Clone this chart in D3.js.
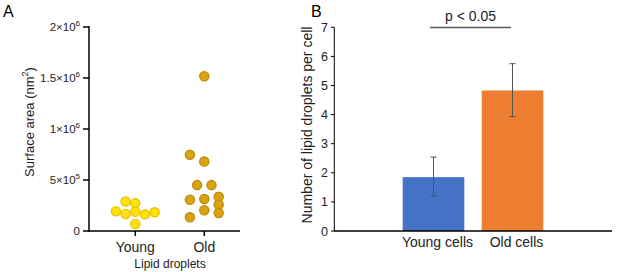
<!DOCTYPE html>
<html><head><meta charset="utf-8">
<script src="https://cdn.jsdelivr.net/npm/d3@7"></script>
<style>body{margin:0;background:#fff}svg{display:block;font-family:"Liberation Sans",Arial,sans-serif}</style>
</head><body><svg id="c" width="617" height="272"></svg>
<script>
// Panel A data
const scatterGroups = ["Young", "Old"];
const youngValues = [193000, 290000, 166000, 271000, 189000, 68000, 163000, 183000];
const youngDodge = [-2, -1, -1, 0, 0, 0, 1, 2];
const oldValues = [1517000, 747000, 682000, 450000, 450000, 306000, 313000, 336000, 257000, 203000, 176000, 134000];
const oldDodge = [0, -1.5, 0, -0.75, 0.75, -1.5, 0, 1.5, 1.5, 0, 1.5, -1.5];
const scatterTicks = [0, 500000, 1000000, 1500000, 2000000];
const scatterTickLabels = [["0", ""], ["5×10", "5"], ["1×10", "6"], ["1.5×10", "6"], ["2×10", "6"]];

// Panel B data
const barCategories = ["Young cells", "Old cells"];
const barValues = [1.85, 4.83];
const errUpper = [2.54, 5.75];
const errLower = [1.2, 3.93];
const barTicks = [0, 1, 2, 3, 4, 5, 6, 7];
const sigLabel = "p < 0.05";

const svg = d3.select("#c");

// ---------- Panel A ----------
const yA = d3.scaleLinear().domain([0, 2000000]).range([231, 27]);
const xA = d3.scalePoint().domain(scatterGroups).range([135.3, 204.3]);
const gA = svg.append("g");
gA.append("text").attr("x", 3).attr("y", 17).attr("font-size", 16).text("A");

// y axis
gA.append("line").attr("x1", 89).attr("x2", 89).attr("y1", yA(2000000) - 0.75).attr("y2", 231.75)
  .attr("stroke", "#000").attr("stroke-width", 1.5);
scatterTicks.forEach((t, i) => {
  gA.append("line").attr("x1", 83).attr("x2", 89).attr("y1", yA(t)).attr("y2", yA(t))
    .attr("stroke", "#000").attr("stroke-width", 1.5);
  const tx = gA.append("text").attr("x", 80).attr("y", yA(t) + 4).attr("text-anchor", "end")
    .attr("font-size", 11.5).attr("fill", "#222");
  const lab = scatterTickLabels[i];
  tx.append("tspan").text(lab[0]);
  if (lab[1]) tx.append("tspan").attr("dy", -5).attr("font-size", 8).text(lab[1]);
});
// x axis
gA.append("line").attr("x1", 88.25).attr("x2", 240).attr("y1", 231).attr("y2", 231)
  .attr("stroke", "#000").attr("stroke-width", 1.5);
scatterGroups.forEach(g => {
  gA.append("line").attr("x1", xA(g)).attr("x2", xA(g)).attr("y1", 231).attr("y2", 236)
    .attr("stroke", "#000").attr("stroke-width", 1.5);
  gA.append("text").attr("x", xA(g)).attr("y", 252).attr("text-anchor", "middle")
    .attr("font-size", 14).attr("fill", "#222").text(g);
});
gA.append("text").attr("x", 170).attr("y", 268).attr("text-anchor", "middle")
  .attr("font-size", 12).attr("fill", "#222").text("Lipid droplets");
const yl = gA.append("text").attr("transform", "translate(34,122) rotate(-90)")
  .attr("text-anchor", "middle").attr("font-size", 13).attr("fill", "#222");
yl.append("tspan").text("Surface area (nm");
yl.append("tspan").attr("dy", -6).attr("font-size", 9).text("2");
yl.append("tspan").attr("dy", 6).text(")");

const dotR = 4.6;
const dotsYoung = youngValues.map((v, i) => ({v, d: youngDodge[i], g: "Young"}));
const dotsOld = oldValues.map((v, i) => ({v, d: oldDodge[i], g: "Old"}));
gA.selectAll("circle.y").data(dotsYoung).join("circle")
  .attr("cx", d => xA(d.g) + d.d * 9.7).attr("cy", d => yA(d.v)).attr("r", dotR)
  .attr("fill", "#FFE20A").attr("stroke", "#E9C300").attr("stroke-width", 1.3);
gA.selectAll("circle.o").data(dotsOld).join("circle")
  .attr("cx", d => xA(d.g) + d.d * 9.6).attr("cy", d => yA(d.v)).attr("r", dotR)
  .attr("fill", "#D9A316").attr("stroke", "#C08A00").attr("stroke-width", 1.3);

// ---------- Panel B ----------
const yB = d3.scaleLinear().domain([0, 7]).range([231, 27.3]);
const xB = d3.scaleBand().domain(barCategories).range([394, 552]).paddingInner(0.22).paddingOuter(0.11);
const gB = svg.append("g");
gB.append("text").attr("x", 311).attr("y", 17).attr("font-size", 16).text("B");

const barColors = ["#4472C4", "#ED7D31"];
gB.selectAll("rect").data(barCategories).join("rect")
  .attr("x", d => xB(d)).attr("width", xB.bandwidth())
  .attr("y", (d, i) => yB(barValues[i])).attr("height", (d, i) => yB(0) - yB(barValues[i]))
  .attr("fill", (d, i) => barColors[i]);

// error bars
barCategories.forEach((c, i) => {
  const cx = xB(c) + xB.bandwidth() / 2;
  gB.append("line").attr("x1", cx).attr("x2", cx).attr("y1", yB(errUpper[i])).attr("y2", yB(errLower[i]))
    .attr("stroke", "#555").attr("stroke-width", 1);
  [errUpper[i], errLower[i]].forEach(e => {
    gB.append("line").attr("x1", cx - 3).attr("x2", cx + 3).attr("y1", yB(e)).attr("y2", yB(e))
      .attr("stroke", "#555").attr("stroke-width", 1);
  });
});

// axes
gB.append("line").attr("x1", 334.3).attr("x2", 334.3).attr("y1", yB(7)).attr("y2", 231)
  .attr("stroke", "#000").attr("stroke-width", 1);
barTicks.forEach(t => {
  gB.append("line").attr("x1", 331).attr("x2", 334.3).attr("y1", yB(t)).attr("y2", yB(t))
    .attr("stroke", "#000").attr("stroke-width", 1);
  gB.append("text").attr("x", 328).attr("y", yB(t) + 4.5).attr("text-anchor", "end")
    .attr("font-size", 12.5).attr("fill", "#222").text(t);
});
gB.append("line").attr("x1", 334).attr("x2", 612).attr("y1", 231).attr("y2", 231)
  .attr("stroke", "#000").attr("stroke-width", 1.5);
barCategories.forEach(c => {
  gB.append("text").attr("x", xB(c) + xB.bandwidth() / 2 + 4).attr("y", 247).attr("text-anchor", "middle")
    .attr("font-size", 14).attr("fill", "#222").text(c);
});
gB.append("text").attr("transform", "translate(312,125) rotate(-90)").attr("text-anchor", "middle")
  .attr("font-size", 14).attr("fill", "#222").text("Number of lipid droplets per cell");

// significance
const sx1 = xB(barCategories[0]) + xB.bandwidth() / 2 - 3.5;
const sx2 = xB(barCategories[1]) + xB.bandwidth() / 2 - 1.5;
gB.append("line").attr("x1", sx1).attr("x2", sx2).attr("y1", 27.5).attr("y2", 27.5)
  .attr("stroke", "#595959").attr("stroke-width", 1.5);
gB.append("text").attr("x", (sx1 + sx2) / 2).attr("y", 21).attr("text-anchor", "middle")
  .attr("font-size", 14).attr("fill", "#222").text(sigLabel);
</script></body></html>
